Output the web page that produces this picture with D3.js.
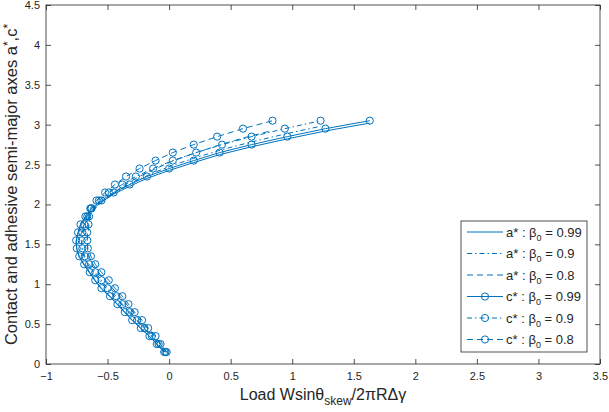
<!DOCTYPE html>
<html><head><meta charset="utf-8">
<script src="https://cdn.jsdelivr.net/npm/d3@7"></script>
<style>
body{margin:0;background:#fff;}
svg{display:block;font-family:"Liberation Sans",Arial,Helvetica,sans-serif;}
</style></head><body>
<svg id="chart" width="609" height="412"></svg>
<script>
// c* parameter values (same for all series)
const cStar = [0.15,0.25,0.35,0.45,0.55,0.65,0.75,0.85,0.95,1.05,1.15,1.25,1.35,1.45,1.55,1.65,1.75,1.85,1.95,2.05,2.15,2.25,2.35,2.45,2.55,2.65,2.75,2.85,2.95,3.05];
// load values for each beta0
const load099 = [-0.04,-0.10,-0.16,-0.23,-0.30,-0.36,-0.42,-0.48,-0.55,-0.60,-0.645,-0.69,-0.73,-0.75,-0.755,-0.74,-0.72,-0.68,-0.63,-0.55,-0.45,-0.32,-0.18,0.00,0.20,0.41,0.67,0.96,1.27,1.63];
const load09  = [-0.03,-0.085,-0.14,-0.20,-0.26,-0.32,-0.38,-0.43,-0.50,-0.55,-0.60,-0.65,-0.685,-0.705,-0.71,-0.705,-0.69,-0.665,-0.635,-0.57,-0.49,-0.38,-0.27,-0.13,0.03,0.22,0.43,0.67,0.94,1.23];
const load08  = [-0.02,-0.07,-0.11,-0.17,-0.22,-0.28,-0.33,-0.38,-0.44,-0.49,-0.55,-0.60,-0.635,-0.66,-0.665,-0.665,-0.655,-0.65,-0.64,-0.59,-0.52,-0.44,-0.35,-0.24,-0.11,0.03,0.20,0.39,0.60,0.84];
// a* values for each beta0
const aStar099 = [0.149,0.248,0.347,0.446,0.545,0.644,0.743,0.842,0.941,1.040,1.139,1.238,1.337,1.436,1.535,1.634,1.733,1.832,1.931,2.030,2.129,2.228,2.327,2.426,2.525,2.624,2.723,2.822,2.921,3.020];
const aStar09  = [0.147,0.244,0.342,0.440,0.537,0.635,0.733,0.830,0.928,1.026,1.124,1.221,1.319,1.417,1.514,1.612,1.710,1.807,1.905,2.003,2.101,2.198,2.296,2.394,2.491,2.589,2.687,2.784,2.882,2.980];
const aStar08  = [0.144,0.240,0.336,0.432,0.528,0.624,0.720,0.816,0.912,1.008,1.104,1.200,1.296,1.392,1.488,1.584,1.680,1.776,1.872,1.968,2.064,2.160,2.256,2.352,2.448,2.544,2.640,2.736,2.832,2.928];

const xTicks = [-1,-0.5,0,0.5,1,1.5,2,2.5,3,3.5];
const yTicks = [0,0.5,1,1.5,2,2.5,3,3.5,4,4.5];
const legendBetas = ["0.99","0.9","0.8"];

const color = "#0072BD";
const axisColor = "#262626";
const svg = d3.select("#chart");
const L = 46, R = 600, T = 5, B = 364;
const x = d3.scaleLinear().domain([-1,3.5]).range([L,R]);
const y = d3.scaleLinear().domain([0,4.5]).range([B,T]);

const styles = [
  {dash:null},
  {dash:"5,3,1.5,3"},
  {dash:"6,4"}
];
const series = [
  {xs:load099, ys:aStar099, st:0, marker:false},
  {xs:load09,  ys:aStar09,  st:1, marker:false},
  {xs:load08,  ys:aStar08,  st:2, marker:false},
  {xs:load099, ys:cStar, st:0, marker:true},
  {xs:load09,  ys:cStar, st:1, marker:true},
  {xs:load08,  ys:cStar, st:2, marker:true}
];

svg.append("defs").append("clipPath").attr("id","clip")
  .append("rect").attr("x",L).attr("y",T).attr("width",R-L).attr("height",B-T);

const g = svg.append("g").attr("clip-path","url(#clip)");
const line = d3.line().x(d=>x(d[0])).y(d=>y(d[1]));
series.forEach(s=>{
  const pts = s.xs.map((v,i)=>[v,s.ys[i]]);
  g.append("path").datum(pts).attr("d",line)
    .attr("fill","none").attr("stroke",color).attr("stroke-width",1)
    .attr("stroke-dasharray",styles[s.st].dash);
  if(s.marker){
    g.selectAll(null).data(pts).enter().append("circle")
      .attr("cx",d=>x(d[0])).attr("cy",d=>y(d[1])).attr("r",3.6)
      .attr("fill","none").attr("stroke",color).attr("stroke-width",1);
  }
});

// axes box
svg.append("rect").attr("x",L).attr("y",T).attr("width",R-L).attr("height",B-T)
  .attr("fill","none").attr("stroke",axisColor).attr("stroke-width",0.8);

const tl = 5;
const xb = svg.append("g").attr("transform",`translate(0,${B})`)
  .call(d3.axisBottom(x).tickValues(xTicks).tickSize(-tl).tickPadding(8).tickFormat(d=>d3.format("")(d)));
const xt = svg.append("g").attr("transform",`translate(0,${T})`)
  .call(d3.axisTop(x).tickValues(xTicks).tickSize(-tl).tickFormat(""));
const yl = svg.append("g").attr("transform",`translate(${L},0)`)
  .call(d3.axisLeft(y).tickValues(yTicks).tickSize(-tl).tickPadding(6).tickFormat(d=>d3.format("")(d)));
const yr = svg.append("g").attr("transform",`translate(${R},0)`)
  .call(d3.axisRight(y).tickValues(yTicks).tickSize(-tl).tickFormat(""));
[xb,xt,yl,yr].forEach(a=>{
  a.select(".domain").remove();
  a.selectAll(".tick line").attr("stroke",axisColor).attr("stroke-width",0.8);
  a.selectAll(".tick text").attr("fill",axisColor).attr("font-size",11)
    .attr("font-family","Liberation Sans, Arial, sans-serif");
});

// x label
const xlab = svg.append("text").attr("x",(L+R)/2).attr("y",400).attr("text-anchor","middle")
  .attr("font-size",16).attr("fill",axisColor);
xlab.append("tspan").text("Load Wsinθ");
xlab.append("tspan").attr("dy",5).attr("font-size",12).text("skew");
xlab.append("tspan").attr("dy",-5).text("/2πRΔγ");

// y label
const ylab = svg.append("text").attr("transform",`translate(17,${(T+B)/2}) rotate(-90)`)
  .attr("text-anchor","middle").attr("font-size",16.5).attr("fill",axisColor);
ylab.append("tspan").text("Contact and adhesive semi-major axes a");
ylab.append("tspan").attr("dy",-5).attr("font-size",12).text("*");
ylab.append("tspan").attr("dy",5).text(",c");
ylab.append("tspan").attr("dy",-5).attr("font-size",12).text("*");

// legend
const lg = svg.append("g");
lg.append("rect").attr("x",461).attr("y",221).attr("width",126).attr("height",131)
  .attr("fill","#fff").attr("stroke",axisColor).attr("stroke-width",0.8);
const rows = [];
["a*","c*"].forEach((nm,k)=>legendBetas.forEach((b,j)=>rows.push({nm,b,st:j,marker:k===1})));
rows.forEach((r,i)=>{
  const cy = 232 + i*21.5;
  lg.append("line").attr("x1",467).attr("x2",503).attr("y1",cy).attr("y2",cy)
    .attr("stroke",color).attr("stroke-width",1).attr("stroke-dasharray",styles[r.st].dash);
  if(r.marker) lg.append("circle").attr("cx",485).attr("cy",cy).attr("r",3.6)
    .attr("fill","none").attr("stroke",color).attr("stroke-width",1);
  const t = lg.append("text").attr("x",506).attr("y",cy+4.5).attr("font-size",13).attr("fill",axisColor);
  t.append("tspan").text(r.nm+" : β");
  t.append("tspan").attr("dy",4).attr("font-size",9).text("0");
  t.append("tspan").attr("dy",-4).text(" = "+r.b);
});
</script>
</body></html>
